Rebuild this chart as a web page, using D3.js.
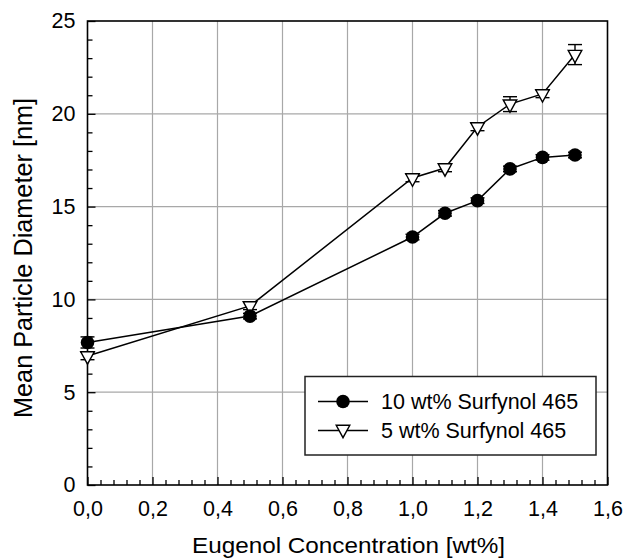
<!DOCTYPE html>
<html><head><meta charset="utf-8">
<script src="https://cdn.jsdelivr.net/npm/d3@7"></script>
<style>body{margin:0;background:#fff}svg{display:block}text{font-family:"Liberation Sans",Arial,sans-serif}</style>
</head><body>
<svg id="c" width="624" height="560"></svg>
<script>
// Data
const concentrations = [0, 0.5, 1.0, 1.1, 1.2, 1.3, 1.4, 1.5];
const surf10 = [7.68, 9.1, 13.36, 14.64, 15.32, 17.03, 17.65, 17.78];
const surf10Err = [0.3, 0.15, 0.15, 0.15, 0.15, 0.15, 0.15, 0.15];
const surf5 = [6.95, 9.65, 16.54, 17.08, 19.29, 20.52, 21.07, 23.19];
const surf5Err = [0.2, 0.2, 0.2, 0.2, 0.2, 0.4, 0.2, 0.54];
const seriesNames = ["10 wt% Surfynol 465", "5 wt% Surfynol 465"];
const xTicks = [0, 0.2, 0.4, 0.6, 0.8, 1.0, 1.2, 1.4, 1.6];
const yTicks = [0, 5, 10, 15, 20, 25];
const xTitle = "Eugenol Concentration [wt%]";
const yTitle = "Mean Particle Diameter [nm]";

const svg = d3.select("#c");
const L = 87.5, R = 607.5, T = 21, B = 485;
const x = d3.scaleLinear([0, 1.6], [L, R]);
const y = d3.scaleLinear([0, 25], [B, T]);
const fmt = v => d3.format(".1f")(v).replace(".", ",");

// grid
const g = svg.append("g");
g.selectAll(".vg").data(xTicks.slice(1, -1)).join("line")
  .attr("x1", d => x(d)).attr("x2", d => x(d)).attr("y1", T).attr("y2", B)
  .attr("stroke", "#a8a8a8").attr("stroke-width", 1.2);
g.selectAll(".hg").data(yTicks.slice(1, -1)).join("line")
  .attr("y1", d => y(d)).attr("y2", d => y(d)).attr("x1", L).attr("x2", R)
  .attr("stroke", "#a8a8a8").attr("stroke-width", 1.2);

// axes
const xMinor = d3.range(0, 1.6001, 0.04).filter(v => Math.abs(v / 0.2 - Math.round(v / 0.2)) > 1e-6);
const yMinor = d3.range(0, 25.001, 1).filter(v => v % 5 !== 0);

const ax = svg.append("g").attr("transform", `translate(0,${B})`)
  .call(d3.axisBottom(x).tickValues(xTicks).tickFormat(fmt).tickSizeInner(-8).tickSizeOuter(0).tickPadding(16));
const axm = svg.append("g").attr("transform", `translate(0,${B})`)
  .call(d3.axisBottom(x).tickValues(xMinor).tickFormat("").tickSizeInner(-5).tickSizeOuter(0));
const ay = svg.append("g").attr("transform", `translate(${L},0)`)
  .call(d3.axisLeft(y).tickValues(yTicks).tickSizeInner(-8).tickSizeOuter(0).tickPadding(12));
const aym = svg.append("g").attr("transform", `translate(${L},0)`)
  .call(d3.axisLeft(y).tickValues(yMinor).tickFormat("").tickSizeInner(-5).tickSizeOuter(0));
[ax, axm, ay, aym].forEach(a => {
  a.select(".domain").remove();
  a.selectAll(".tick line").attr("stroke", "#000").attr("stroke-width", 1.3);
  a.selectAll("text").attr("font-size", 21.5).attr("fill", "#000")
    .style("font-family", '"Liberation Sans", Arial, sans-serif');
});

// frame
svg.append("rect").attr("x", L).attr("y", T).attr("width", R - L).attr("height", B - T)
  .attr("fill", "none").attr("stroke", "#000").attr("stroke-width", 1.6);

// titles
svg.append("text").attr("x", 192).attr("y", 553)
  .attr("font-size", 21.5).attr("textLength", 313).attr("lengthAdjust", "spacingAndGlyphs").text(xTitle);
svg.append("text").attr("transform", `translate(32,418) rotate(-90)`)
  .attr("font-size", 25).attr("textLength", 320).attr("lengthAdjust", "spacingAndGlyphs").text(yTitle);

// series
const line = d3.line().x(d => x(d[0])).y(d => y(d[1]));
const d10 = concentrations.map((c, i) => [c, surf10[i], surf10Err[i]]);
const d5 = concentrations.map((c, i) => [c, surf5[i], surf5Err[i]]);

function errBars(data) {
  const eg = svg.append("g").attr("stroke", "#000").attr("stroke-width", 1.4);
  data.forEach(d => {
    const cx = x(d[0]), t = y(d[1] + d[2]), b = y(d[1] - d[2]);
    eg.append("line").attr("x1", cx).attr("x2", cx).attr("y1", t).attr("y2", b);
    eg.append("line").attr("x1", cx - 7).attr("x2", cx + 7).attr("y1", t).attr("y2", t);
    eg.append("line").attr("x1", cx - 7).attr("x2", cx + 7).attr("y1", b).attr("y2", b);
  });
}
errBars(d5);
errBars(d10);
svg.append("path").datum(d10).attr("d", line).attr("fill", "none").attr("stroke", "#000").attr("stroke-width", 1.5);
svg.append("path").datum(d5).attr("d", line).attr("fill", "none").attr("stroke", "#000").attr("stroke-width", 1.5);

const tri = "M-6.8,-4.2L6.8,-4.2L0,8.2Z";
svg.append("g").selectAll("path").data(d5).join("path")
  .attr("transform", d => `translate(${x(d[0])},${y(d[1])})`).attr("d", tri)
  .attr("fill", "#fff").attr("stroke", "#000").attr("stroke-width", 1.4);
svg.append("g").selectAll("circle").data(d10).join("circle")
  .attr("cx", d => x(d[0])).attr("cy", d => y(d[1])).attr("r", 6.8).attr("fill", "#000");

// legend
const lg = svg.append("g");
lg.append("rect").attr("x", 305).attr("y", 376.5).attr("width", 291).attr("height", 78.5)
  .attr("fill", "#fff").attr("stroke", "#222").attr("stroke-width", 1.5);
const ly = [401.5, 430.5];
ly.forEach((yy, i) => {
  lg.append("line").attr("x1", 318).attr("x2", 368).attr("y1", yy).attr("y2", yy)
    .attr("stroke", "#000").attr("stroke-width", 1.5);
  if (i === 0) lg.append("circle").attr("cx", 343).attr("cy", yy).attr("r", 6.8).attr("fill", "#000");
  else lg.append("path").attr("transform", `translate(343,${yy - 1})`).attr("d", tri)
    .attr("fill", "#fff").attr("stroke", "#000").attr("stroke-width", 1.4);
  lg.append("text").attr("x", 381).attr("y", yy).attr("dy", "0.35em").attr("font-size", 21.5).text(seriesNames[i]);
});
</script>
</body></html>
